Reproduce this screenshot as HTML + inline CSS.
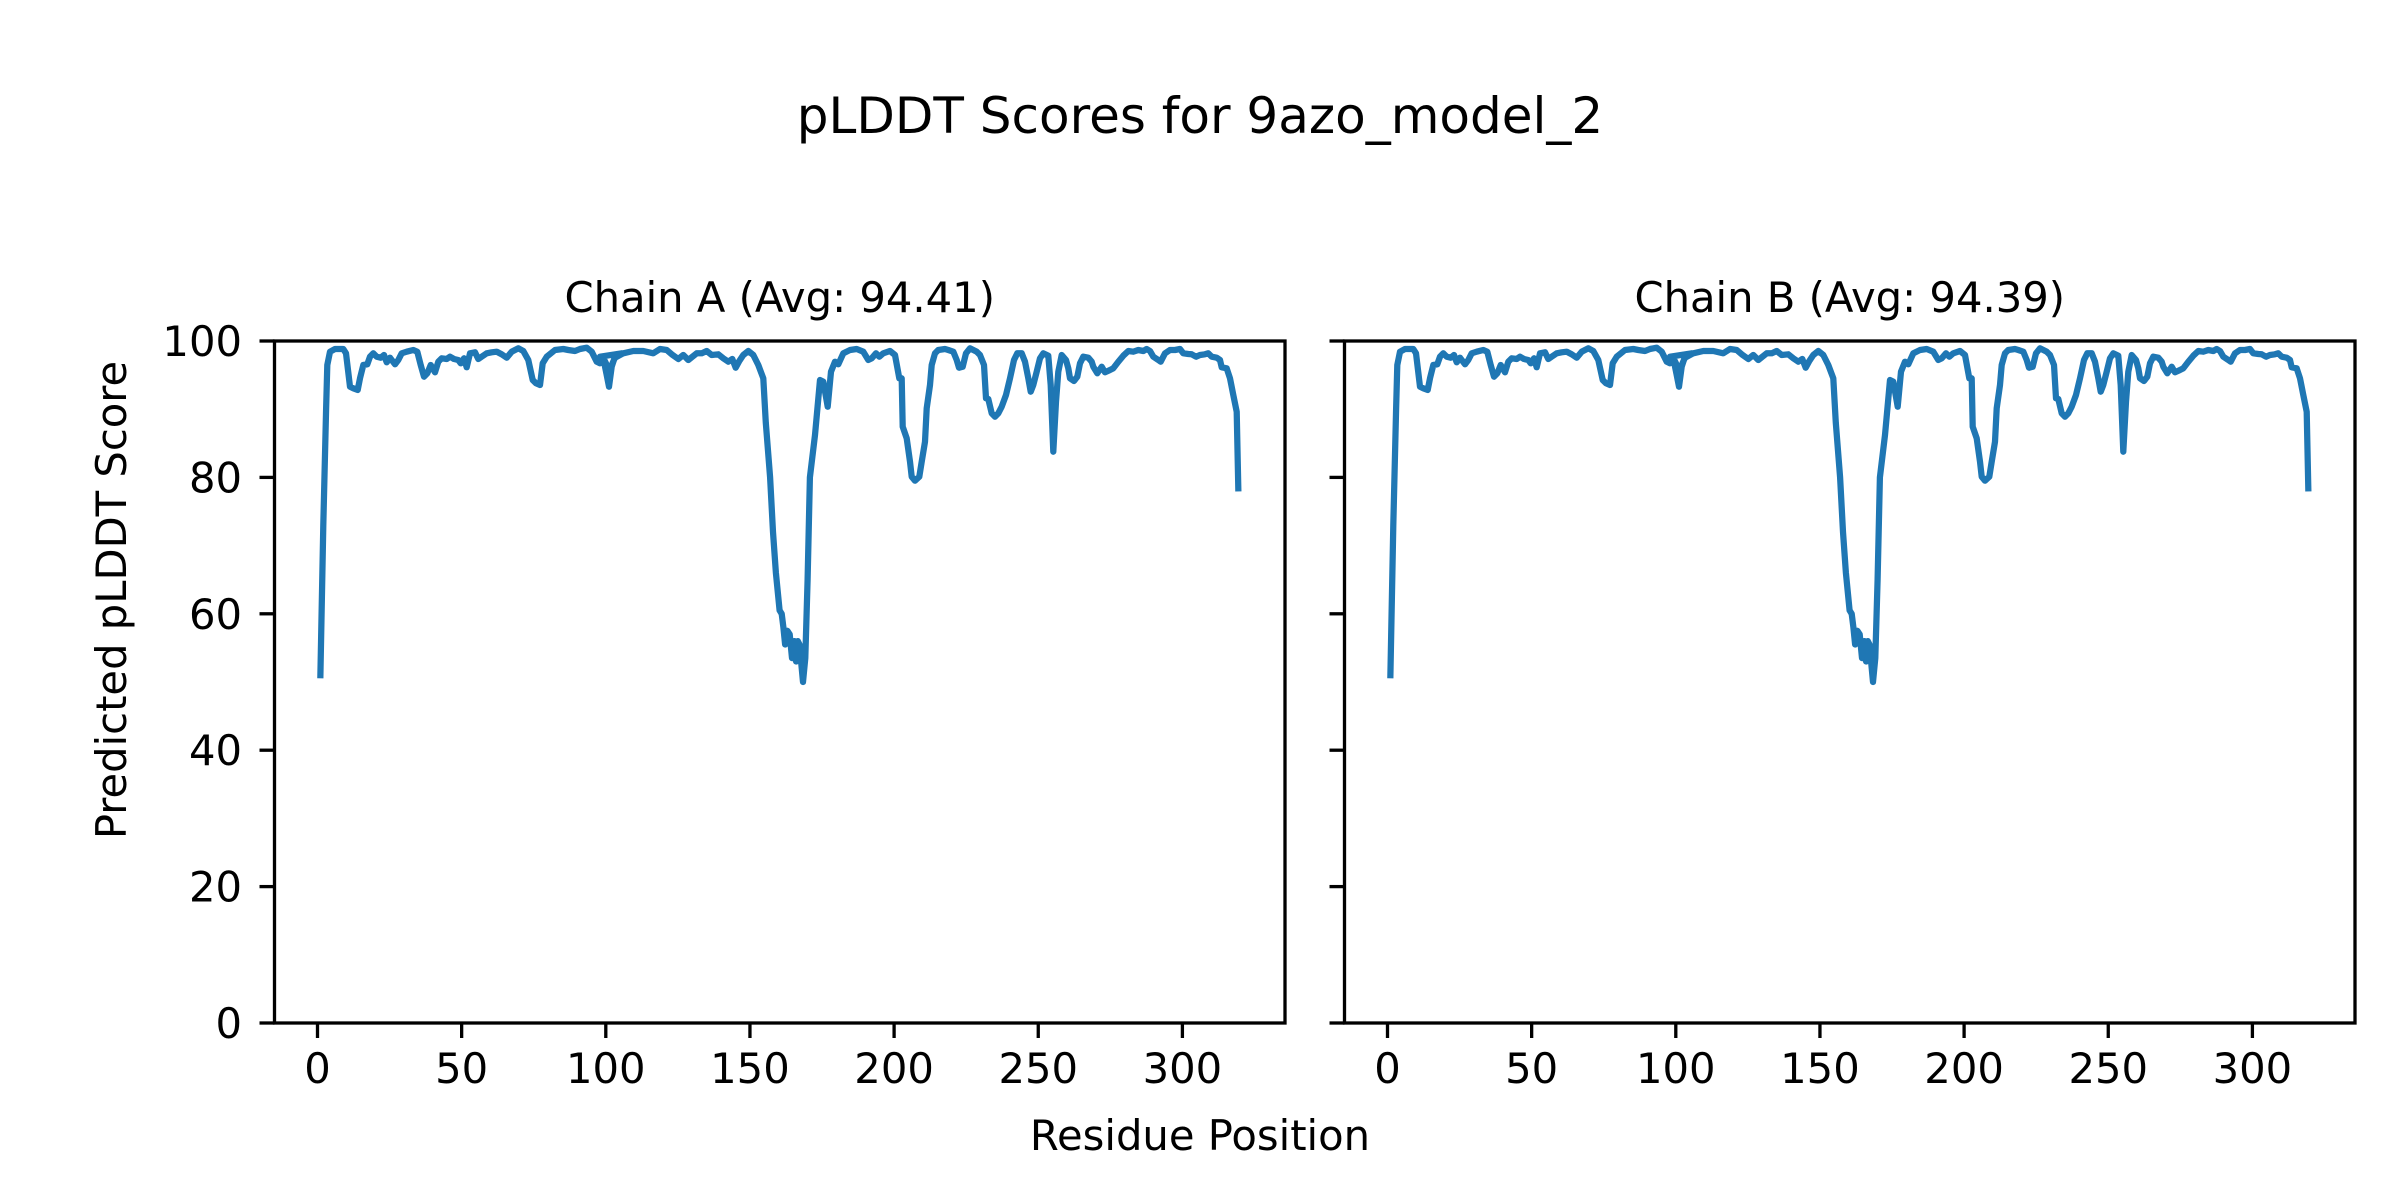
<!DOCTYPE html>
<html><head><meta charset="utf-8"><style>
html,body{margin:0;padding:0;background:#fff;}
svg{display:block;font-family:"DejaVu Sans","Liberation Sans",sans-serif;}
</style></head><body>
<svg id="s" width="2400" height="1200" viewBox="0 0 2400 1200" xmlns="http://www.w3.org/2000/svg">
<rect width="2400" height="1200" fill="#fff"/>
<text x="1200" y="133" font-size="50" text-anchor="middle">pLDDT Scores for 9azo_model_2</text>
<text x="1200" y="1150" font-size="41.7" text-anchor="middle">Residue Position</text>
<text transform="translate(126,600) rotate(-90)" font-size="41.7" text-anchor="middle">Predicted pLDDT Score</text>
<g id="axes"></g>
</svg>
<script>
const NS="http://www.w3.org/2000/svg";
const g=document.getElementById('axes');
function el(t,a,txt){const e=document.createElementNS(NS,t);for(const k in a)e.setAttribute(k,a[k]);if(txt!==undefined)e.textContent=txt;g.appendChild(e);return e;}
let pts=[];
const v2y=v=>1023-v*6.82, r2x=r=>317.5+r*2.883;
pts.push([r2x(1),v2y(51)],[r2x(2),v2y(73)],[r2x(3),v2y(90)]);
const z5=[[52,90],[60,50],[75,42],[100,42],[108,55],[120,155],[130,160],[143,165],[150,130],[160,90],[172,88],[180,65],[190,55],[200,65],[212,68],[222,60],[230,82],[240,68],[255,88],[265,75],[275,55],[290,50],[310,45],[322,50],[332,90],[342,125],[352,115],[362,90],[375,112],[385,80],[395,70],[410,72],[420,65],[432,72],[445,75],[452,85],[462,70],[470,97],[480,55],[495,52],[505,72],[515,65],[530,55],[545,52],[560,50],[575,58],[590,68],[605,50],[625,40],[640,48],[655,75],[668,135],[678,145],[690,150],[698,85],[710,65],[735,45],[760,42],[775,45],[795,48],[810,42],[830,38],[845,50],[860,80],[870,85],[880,68],[888,85],[897,155],[905,95],[915,65],[935,55]];
z5.forEach(p=>pts.push([310+p[0]/3,335+p[1]/3]));
const z6a=[[0,65],[10,70],[20,120],[27,155],[35,90],[45,68],[70,55],[100,48],[130,48],[160,55],[180,42],[200,45],[215,58],[235,72],[250,60],[265,75],[290,55],[305,55],[320,48],[335,60],[355,58],[370,70],[385,80],[397,72],[407,98],[418,78],[430,60],[445,48],[460,60],[475,90],[490,130]];
z6a.forEach(p=>pts.push([600+p[0]/3,335+p[1]/3]));
const dip=[[155.5,88],[157,80],[158,72],[159,66],[160.3,60.5],[161,60],[161.6,58],[162.2,55.5],[163,57.5],[163.8,57],[164.6,53.5],[165.4,56],[166,53],[166.6,56],[167.2,55.5],[168.4,50],[169.2,53.5],[170,65],[170.8,80]];
dip.forEach(p=>pts.push([r2x(p[0]),v2y(p[1])]));
const z6b=[[645,300],[660,135],[670,140],[683,215],[693,110],[705,80],[715,88],[730,55],[750,45],[770,42],[790,50],[805,75],[815,70],[828,55],[838,65],[850,55],[870,48],[885,60],[898,130]];
z6b.forEach(p=>pts.push([600+p[0]/3,335+p[1]/3]));
const z7=[[65,130],[68,275],[80,310],[90,380],[95,425],[105,437],[118,425],[125,380],[135,320],[140,220],[150,150],[155,90],[165,55],[175,45],[195,42],[205,45],[220,50],[230,75],[237,98],[248,95],[258,55],[270,40],[290,50],[300,60],[312,90],[318,190],[325,192],[335,235],[345,245],[355,235],[365,215],[378,180],[390,130],[402,75],[412,55],[425,55],[435,80],[445,130],[452,170],[460,150],[470,110],[480,70],[490,55],[505,62],[512,150],[520,350],[528,200],[535,110],[545,60],[558,75],[565,100],[570,130],[582,138],[592,125],[600,85],[610,65],[625,68],[635,80],[640,95],[652,115],[665,95],[675,112],[690,105],[700,100],[715,80],[730,62],[745,48],[760,50],[775,45],[790,48],[800,42],[810,48],[820,65],[835,75],[842,80],[855,55],[870,45],[885,45],[900,42],[910,55],[925,57],[935,58],[948,65],[960,60],[975,58],[985,55],[995,65],[1010,68],[1020,75],[1025,97],[1040,100],[1050,130],[1060,180],[1070,230],[1075,460]];
z7.forEach(p=>pts.push([880+p[0]/3,335+p[1]/3]));

function panel(ox,title,first){
  const L=274.5+ox,R=1285+ox,T=341,B=1023;
  [0,50,100,150,200,250,300].forEach(t=>{const x=r2x(t)+ox;el('line',{x1:x,y1:B,x2:x,y2:B+15,stroke:'#000','stroke-width':3.3});el('text',{x:x,y:1083,'font-size':41.7,'text-anchor':'middle'},String(t));});
  [0,20,40,60,80,100].forEach(t=>{const y=v2y(t);el('line',{x1:L-15,y1:y,x2:L,y2:y,stroke:'#000','stroke-width':3.3});if(first)el('text',{x:242,y:y+15,'font-size':41.7,'text-anchor':'end'},String(t));});
  let d='';pts.forEach((p,i)=>{d+=(i?'L':'M')+(p[0]+ox).toFixed(1)+' '+p[1].toFixed(1);});
  el('path',{d:d,fill:'none',stroke:'#1f77b4','stroke-width':6.25,'stroke-linejoin':'round','stroke-linecap':'square'});
  el('rect',{x:L,y:T,width:R-L,height:B-T,fill:'none',stroke:'#000','stroke-width':3.3});
  el('text',{x:(L+R)/2,y:312,'font-size':41.7,'text-anchor':'middle'},title);
}
panel(0,'Chain A (Avg: 94.41)',true);
panel(1070,'Chain B (Avg: 94.39)',false);
</script>
</body></html>
